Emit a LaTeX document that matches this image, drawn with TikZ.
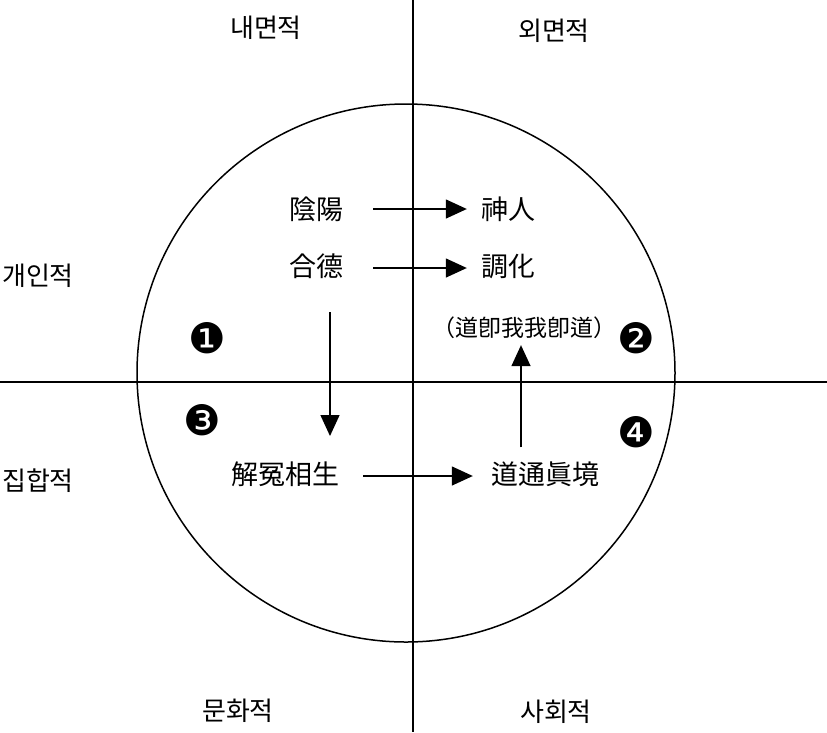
\documentclass[tikz,border=0pt]{standalone}
\usepackage{fontspec}
\setmainfont{Noto Sans CJK KR}
\newfontfamily\numfont{DejaVu Sans}
\usetikzlibrary{arrows.meta}
\tikzset{
  lbl/.style={inner sep=2pt, font=\fontsize{26}{28}\selectfont},
  term/.style={inner sep=2pt, font=\fontsize{27}{30}\selectfont},
  num/.style={inner sep=0pt, font=\numfont\fontsize{42}{44}\selectfont},
  arr/.style={line width=1.4pt, -{Triangle[length=21pt,width=19pt]}},
}
\begin{document}
\begin{tikzpicture}[x=1pt,y=-1pt]
  \useasboundingbox (0,0) rectangle (827,732);
  % axes and circle
  \draw [line width=1.4pt] (413,0) -- (413,732);
  \draw [line width=1.4pt] (0,382) -- (827,382);
  \draw [line width=1.5pt] (406,373) circle (269);

  % axis labels
  \node (inner) [lbl] at (266,28) {내면적};
  \node (outer) [lbl] at (554,31) {외면적};
  \node (indiv) [lbl] at (38,276) {개인적};
  \node (coll) [lbl] at (38,481) {집합적};
  \node (cult) [lbl] at (238,711) {문화적};
  \node (soc) [lbl] at (556,712) {사회적};

  % terms
  \node (yinyang) [term] at (316,209) {陰陽};
  \node (hapdeok) [term] at (316,266) {合德};
  \node (sinin) [term] at (508,209) {神人};
  \node (johwa) [term] at (508,266) {調化};
  \node (dao) [inner sep=2pt, font=\fontsize{23}{26}\selectfont] at (524,328) {（道卽我我卽道）};
  \node (haewon) [term] at (285,474) {解冤相生};
  \node (dotong) [term] at (545,474) {道通眞境};

  % quadrant numbers
  \node (n1) [num] at (207,338) {❶};
  \node (n2) [num] at (636,338) {❷};
  \node (n3) [num] at (202,420) {❸};
  \node (n4) [num] at (636,432) {❹};

  % arrows
  \coordinate (d1) at (330,312);
  \coordinate (d2) at (330,436);
  \draw [arr, shorten <=28pt, shorten >=12pt] (yinyang) -- (sinin);
  \draw [arr, shorten <=28pt, shorten >=12pt] (hapdeok.east |- 0,268) -- (johwa.west |- 0,268);
  \draw [arr] (d1) -- (d2);
  \draw [arr, shorten <=22pt, shorten >=16pt] (haewon.east |- 0,476) -- (dotong.west |- 0,476);
  \draw [arr, shorten <=12pt, shorten >=4pt] (dotong.north -| 521,0) -- (dao.south -| 521,0);
\end{tikzpicture}
\end{document}
